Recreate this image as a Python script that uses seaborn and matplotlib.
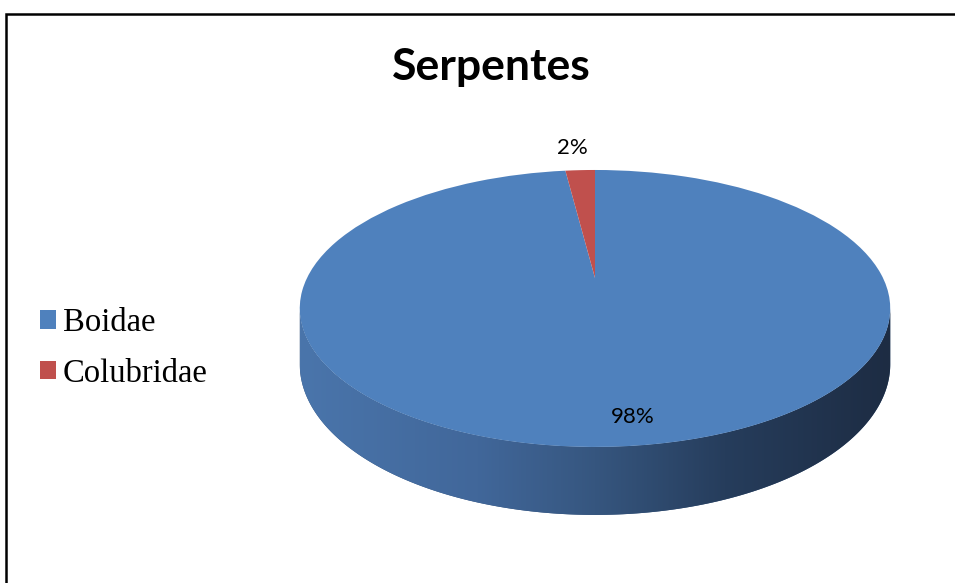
import numpy as np
import matplotlib
matplotlib.use("Agg")
import matplotlib.pyplot as plt
import seaborn as sns
from matplotlib import transforms as mtransforms
from matplotlib.colors import LinearSegmentedColormap
from matplotlib.patches import Polygon, Rectangle

# data
families = ["Boidae", "Colubridae"]
shares = [98, 2]
pct_labels = ["98%", "2%"]
title = "Serpentes"

sns.set_theme(style="white")
colors = sns.color_palette(["#4F81BD", "#C0504D"])

# 3D look: tilt of the disk (perspective) and thickness
K, S, DEPTH = 0.22, 0.4576, 0.184


class Tilt(mtransforms.Transform):
    input_dims = output_dims = 2

    def transform_non_affine(self, xy):
        xy = np.asarray(xy, dtype=float)
        w = 1 + K * xy[:, 1]
        return np.column_stack([xy[:, 0] / w, S * xy[:, 1] / w])


tilt = Tilt()

W, H, DPI = 955, 583, 100
fig = plt.figure(figsize=(W / DPI, H / DPI), dpi=DPI)
ax = fig.add_axes([0, 0, 1, 1])

wedges, _ = ax.pie(shares, colors=colors, startangle=90, counterclock=False,
                   radius=1, wedgeprops=dict(linewidth=0))
for w in wedges:
    w.set_transform(tilt + ax.transData)
    w.set_zorder(3)

# side of the cylinder (front half)
a0 = np.arcsin(K)
th = np.linspace(np.pi + a0, 2 * np.pi - a0, 300)
den = 1 + K * np.sin(th)
xs = np.cos(th) / den
top = np.column_stack([xs, S * np.sin(th) / den])
bot = np.column_stack([xs, (S * np.sin(th) - DEPTH) / den])
side = Polygon(np.vstack([top, bot[::-1]]), closed=True, facecolor="#33527a",
               edgecolor="none", zorder=1)
ax.add_patch(side)
side_cmap = LinearSegmentedColormap.from_list(
    "side", [(0, "#4a75ab"), (0.3, "#41679a"), (0.5, "#36567f"),
             (0.72, "#263d5c"), (1, "#1d2c43")])
grad = ax.imshow(np.linspace(0, 1, 256)[None, :], cmap=side_cmap, aspect="auto",
                 extent=(xs.min(), xs.max(), bot[:, 1].min(), 0.1), zorder=2)
grad.set_clip_path(side)

# percentage labels
label_r = [0.86, 1.26]
label_dx = [19, -5]
for w, lab, r, dx in zip(wedges, pct_labels, label_r, label_dx):
    mid = np.deg2rad((w.theta1 + w.theta2) / 2)
    pos = tilt.transform(np.array([[r * np.cos(mid), r * np.sin(mid)]]))[0]
    ax.annotate(lab, xy=pos, xytext=(dx, 0), textcoords="offset pixels",
                ha="center", va="center", fontsize=16, family="Lato",
                color="black", zorder=5)

# map pie center to the right spot of the canvas
cx, cy, scale = 595, H - 278, 288
ax.set_aspect("auto")
ax.set_xlim(-cx / scale, (W - cx) / scale)
ax.set_ylim(-cy / scale, (H - cy) / scale)
ax.axis("off")

fig.text(491 / W, 1 - 67 / H, title, ha="center", va="center", color="black",
         fontsize=32, fontweight="bold", family="Lato")

fig.legend(wedges, families, loc="center left", bbox_to_anchor=(40 / W, 1 - 348 / H),
           frameon=False, prop=dict(family="Liberation Serif", size=23.5),
           labelcolor="black",
           handlelength=0.5, handleheight=0.5, handletextpad=0.2,
           labelspacing=0.62, borderpad=0, borderaxespad=0)

fig.patches.append(Rectangle((6 / W, -0.1), 1.2, 1.1 - 14 / H, transform=fig.transFigure,
                             fill=False, edgecolor="black", linewidth=1.8))

fig.savefig("out.png", dpi=DPI)
